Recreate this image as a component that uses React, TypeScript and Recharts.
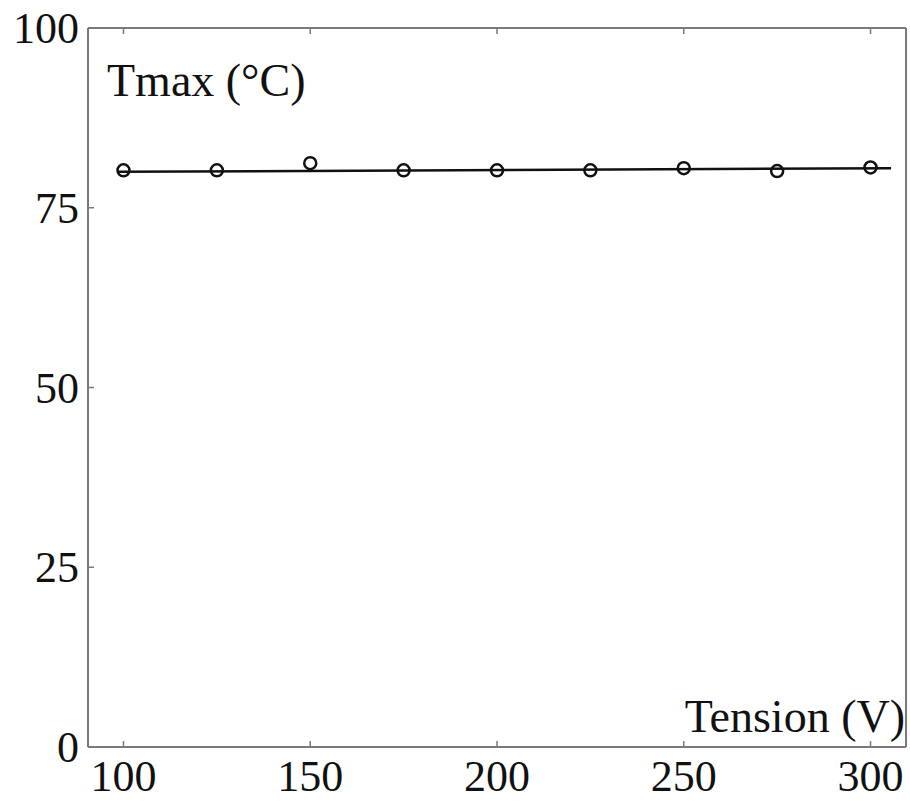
import React from "react";
import { ComposedChart, Line, Scatter, XAxis, YAxis } from "recharts";

// measured points (Tension V -> Tmax °C)
const tension = [100, 125, 150, 175, 200, 225, 250, 275, 300];
const tmax = [80.2, 80.2, 81.2, 80.2, 80.2, 80.2, 80.5, 80.1, 80.6];

// straight fit line drawn across the points
const fitX = [98.5, 305.5];
const fitY = [80.0, 80.5];

const xTicks = [100, 150, 200, 250, 300];
const yTicks = [0, 25, 50, 75, 100];

const points = tension.map((x, i) => ({ x, y: tmax[i] }));
const fit = fitX.map((x, i) => ({ x, y: fitY[i] }));

const FONT = "'Liberation Serif', 'Times New Roman', serif";
const AXIS = "#7a7a7a";

function BottomTick({ x, y, payload }: any) {
  return (
    <g>
      <line x1={x} y1={y} x2={x} y2={y - 6} stroke={AXIS} strokeWidth={1.5} />
      <text x={x} y={y + 44} textAnchor="middle" fontFamily={FONT} fontSize={44} fill="#111">
        {payload.value}
      </text>
    </g>
  );
}

function LeftTick({ x, y, payload }: any) {
  return (
    <g>
      <line x1={x} y1={y} x2={x + 6} y2={y} stroke={AXIS} strokeWidth={1.5} />
      <text x={x - 9} y={y + 15} textAnchor="end" fontFamily={FONT} fontSize={44} fill="#111">
        {payload.value}
      </text>
    </g>
  );
}

function TopTick({ x, y }: any) {
  return <line x1={x} y1={y} x2={x} y2={y + 6} stroke={AXIS} strokeWidth={1.5} />;
}

function RightTick({ x, y }: any) {
  return <line x1={x} y1={y} x2={x - 6} y2={y} stroke={AXIS} strokeWidth={1.5} />;
}

function Ring({ cx, cy }: any) {
  return <circle cx={cx} cy={cy} r={6} fill="none" stroke="#111" strokeWidth={2.5} />;
}

export default function App() {
  return (
    <div style={{ position: "absolute", left: 0, top: 0, width: 910, height: 807, background: "#fff" }}>
      <ComposedChart width={910} height={807} margin={{ top: 27, right: 0, bottom: 0, left: 0 }}>
        <XAxis
          xAxisId="b"
          dataKey="x"
          type="number"
          domain={[90.5, 309.5]}
          ticks={xTicks}
          height={60}
          tickSize={0}
          tickMargin={0}
          tickLine={false}
          tick={<BottomTick />}
          axisLine={{ stroke: AXIS, strokeWidth: 2 }}
          allowDataOverflow
        />
        <XAxis
          xAxisId="t"
          orientation="top"
          dataKey="x"
          type="number"
          domain={[90.5, 309.5]}
          ticks={xTicks}
          height={1}
          tickSize={0}
          tickMargin={0}
          tickLine={false}
          tick={<TopTick />}
          axisLine={{ stroke: AXIS, strokeWidth: 2 }}
          allowDataOverflow
        />
        <YAxis
          yAxisId="l"
          dataKey="y"
          type="number"
          domain={[0, 100]}
          ticks={yTicks}
          width={88}
          tickSize={0}
          tickMargin={0}
          tickLine={false}
          tick={<LeftTick />}
          axisLine={{ stroke: AXIS, strokeWidth: 2 }}
        />
        <YAxis
          yAxisId="r"
          orientation="right"
          dataKey="y"
          type="number"
          domain={[0, 100]}
          ticks={yTicks}
          width={4}
          tickSize={0}
          tickMargin={0}
          tickLine={false}
          tick={<RightTick />}
          axisLine={{ stroke: AXIS, strokeWidth: 2 }}
        />
        <Line
          xAxisId="b"
          yAxisId="l"
          data={fit}
          dataKey="y"
          stroke="#111"
          strokeWidth={2.5}
          dot={false}
          isAnimationActive={false}
        />
        <Scatter
          xAxisId="b"
          yAxisId="l"
          data={points}
          dataKey="y"
          shape={<Ring />}
          isAnimationActive={false}
        />
      </ComposedChart>
      <div
        style={{
          position: "absolute",
          left: 107,
          top: 58,
          fontFamily: FONT,
          fontSize: 46,
          lineHeight: 1,
          color: "#111",
          whiteSpace: "nowrap",
        }}
      >
        Tmax (°C)
      </div>
      <div
        style={{
          position: "absolute",
          right: 5,
          top: 694,
          fontFamily: FONT,
          fontSize: 46,
          lineHeight: 1,
          color: "#111",
          whiteSpace: "nowrap",
        }}
      >
        Tension (V)
      </div>
    </div>
  );
}
